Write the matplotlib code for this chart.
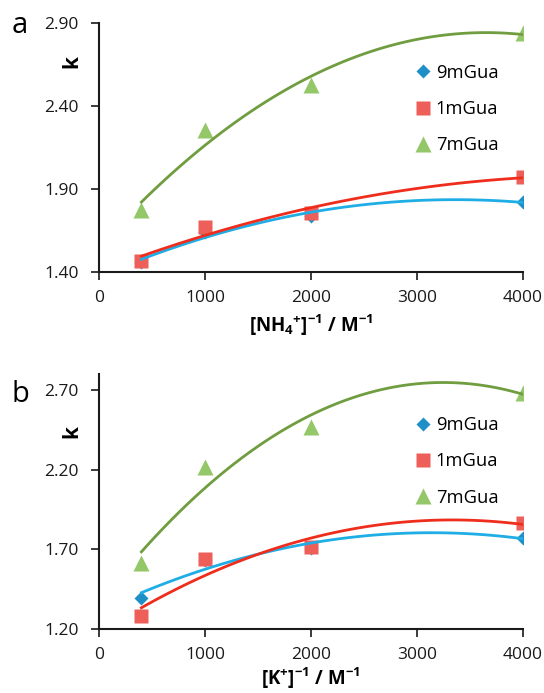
import numpy as np
import matplotlib
matplotlib.use('Agg')
import matplotlib.pyplot as plt

plt.rcParams['font.family'] = ['Open Sans', 'DejaVu Sans']
plt.rcParams['mathtext.fontset'] = 'custom'
plt.rcParams['mathtext.rm'] = 'Open Sans'
plt.rcParams['mathtext.bf'] = 'Open Sans:bold'

# concentrations (inverse), M^-1
conc = [400, 1000, 2000, 4000]

# panel a: NH4+
k_nh4_9m = [1.455, 1.640, 1.737, 1.819]
k_nh4_1m = [1.465, 1.670, 1.755, 1.969]
k_nh4_7m = [1.771, 2.251, 2.525, 2.835]

# panel b: K+
k_k_9m = [1.397, 1.633, 1.706, 1.771]
k_k_1m = [1.280, 1.637, 1.713, 1.864]
k_k_7m = [1.616, 2.215, 2.469, 2.683]

names = ['9mGua', '1mGua', '7mGua']
mark_col = ['#1f8fc8', '#ef5f5a', '#94c768']
line_col = ['#1fade6', '#ef2d1c', '#6f9d3f']
markers = ['D', 's', '^']
msizes = [6.8, 10.6, 11.5]


def squad_fit(X, y):
    # quadratic trendline like excel
    c = np.polyfit(X, y, 2)
    xs = np.linspace(min(X), max(X), 100)
    return xs, np.polyval(c, xs)


def panel(ax, series, ylim, yticks, xlabel, letter, ky, ly, lpad):
    for i, y in enumerate(series):
        ax.plot(conc, y, ls='none', marker=markers[i], ms=msizes[i],
                color=mark_col[i], mec='none', label=names[i], zorder=2)
    for i, y in enumerate(series):
        xs, ys = squad_fit(conc, y)
        ax.plot(xs, ys, color=line_col[i], lw=2, zorder=3)
    ax.set_xlim(0, 4000)
    ax.set_ylim(*ylim)
    ax.set_xticks([0, 1000, 2000, 3000, 4000])
    ax.set_yticks(yticks)
    ax.set_yticklabels(['%.2f' % t for t in yticks])
    ax.spines['top'].set_visible(False)
    ax.spines['right'].set_visible(False)
    for s in ['left', 'bottom']:
        ax.spines[s].set_linewidth(1.5)
        ax.spines[s].set_color('#1a1a1a')
    ax.tick_params(direction='out', length=6, width=1.2, labelsize=12.5,
                   colors='#1a1a1a')
    ax.tick_params(axis='y', pad=8.5)
    ax.tick_params(axis='x', pad=7)
    ax.set_xlabel(xlabel, fontsize=13.5, fontweight='bold', labelpad=lpad)
    ax.text(-0.064, ky, 'k', transform=ax.transAxes, rotation=90,
            fontsize=15, fontweight='bold', ha='center', va='center')
    ax.text(-0.186, ly, letter, transform=ax.transAxes,
            fontsize=21, ha='center', va='baseline')
    ax.legend(loc='upper left', bbox_to_anchor=(0.738, 0.835), frameon=False,
              fontsize=13.2, handletextpad=0.1, labelspacing=1.0,
              handlelength=1.2, borderaxespad=0, borderpad=0)


fig = plt.figure(figsize=(5.44, 6.93), dpi=100)
ax1 = fig.add_axes([0.182, 0.6082, 0.7794, 0.3593])
ax2 = fig.add_axes([0.182, 0.0924, 0.7794, 0.3680])

panel(ax1, [k_nh4_9m, k_nh4_1m, k_nh4_7m], (1.40, 2.90), [1.40, 1.90, 2.40, 2.90],
      r'[NH$_\mathbf{4}$$^\mathbf{+}$]$^\mathbf{-1}$ / M$^\mathbf{-1}$', 'a', 0.843, 0.958, 5)
panel(ax2, [k_k_9m, k_k_1m, k_k_7m], (1.20, 2.80), [1.20, 1.70, 2.20, 2.70],
      r'[K$^\mathbf{+}$]$^\mathbf{-1}$ / M$^\mathbf{-1}$', 'b', 0.773, 0.890, 2)

fig.savefig('out.png', dpi=100)
